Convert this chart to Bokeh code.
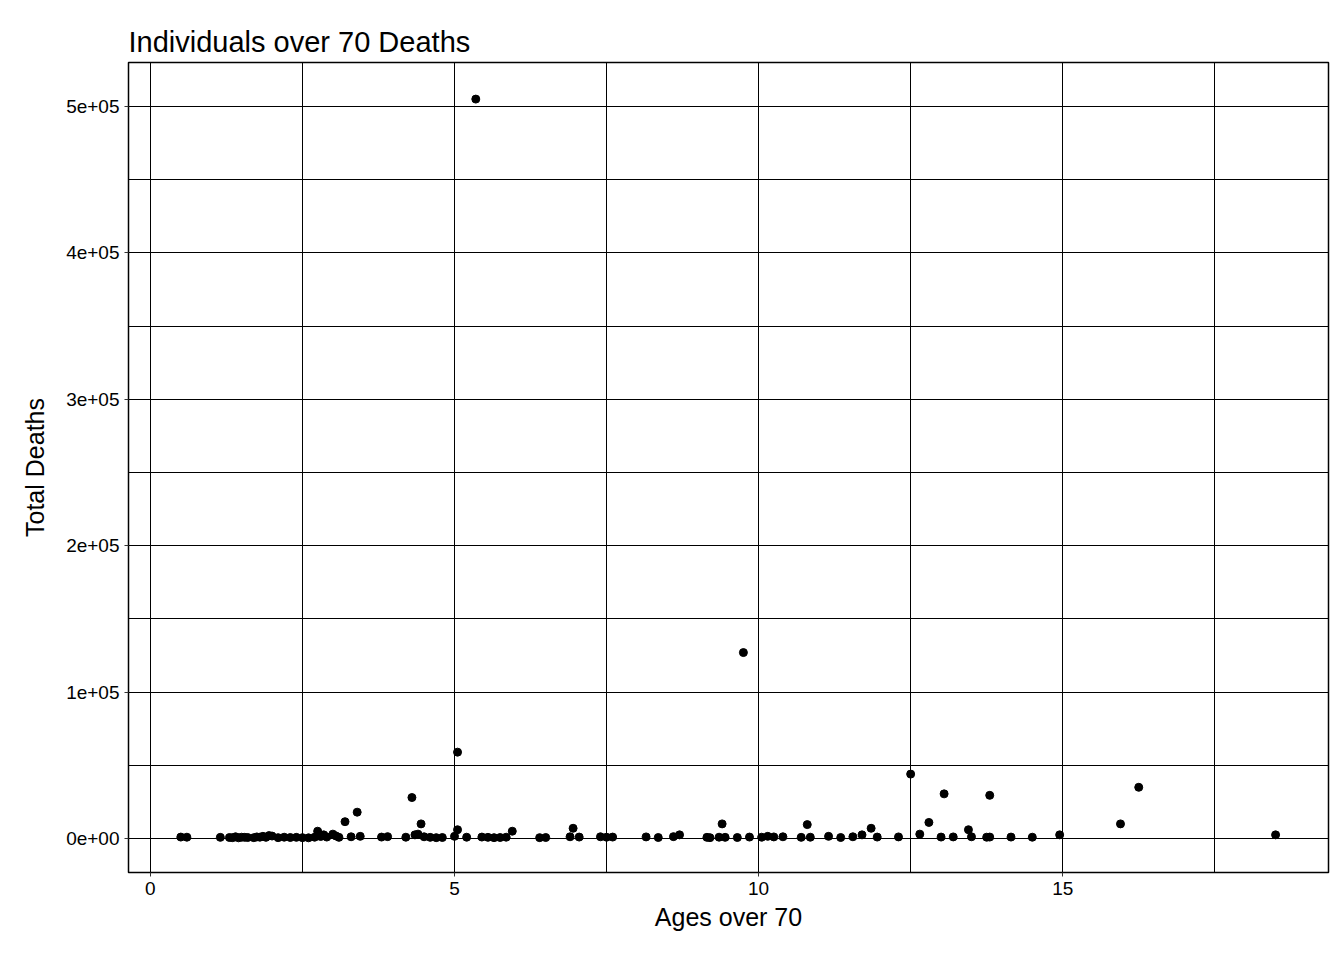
from bokeh.plotting import figure
from bokeh.embed import file_html
from bokeh.resources import INLINE
from bokeh.models import Range1d, FixedTicker

low_x = [0.5,0.6,1.15,1.3,1.35,1.4,1.45,1.5,1.55,1.6,1.7,1.75,1.8,1.85,1.9,1.95,2.0,2.1,2.2,2.3,2.4,2.5,2.6,2.7,2.8,2.85,2.9,3.0,3.05,3.1,3.3,3.45,3.8,3.9,4.2,4.35,4.4,4.5,4.6,4.7,4.8,5.0,5.2,5.45,5.55,5.65,5.75,5.85,6.4,6.5,6.9,7.05,7.4,7.5,7.6,8.15,8.35,8.6,9.15,9.2,9.35,9.45,9.65,9.85,10.05,10.15,10.25,10.4,10.7,10.85,11.15,11.35,11.55,11.7,11.95,12.3,13.0,13.2,13.5,13.75,13.8,14.15,14.5]
low_y = [1000,900,800,700,600,1200,500,900,800,700,600,1100,900,1500,800,2000,1700,600,900,700,800,600,500,900,1400,2500,1000,3000,1800,800,1200,1500,1000,1300,900,2500,3000,1200,800,600,700,1500,900,1000,800,600,700,900,600,700,1200,1000,1200,900,1000,1100,700,1300,800,600,900,800,700,1000,900,1500,1100,1200,800,900,1500,700,1200,2500,1000,1100,1000,1100,1200,900,1000,1000,900]
big_x = [5.35,9.75,5.05,12.5,16.25,13.05,13.8,4.3,3.4,3.2,4.45,12.8,9.4,10.8,15.95,11.85,6.95,13.45,2.75,5.05,5.95,18.5,14.95,12.65,8.7]
big_y = [505000,127000,59000,44000,35000,30500,29500,28000,18000,11500,10000,11000,10000,9500,10000,7000,7000,6000,5000,6000,5000,2500,2500,3000,2500]

xs = low_x + big_x
ys = low_y + big_y

p = figure(width=1336, height=952, output_backend="svg", toolbar_location=None,
           x_range=Range1d(-0.36, 19.37), y_range=Range1d(-23200, 530000),
           min_border_left=128, min_border_top=62, min_border_right=8, min_border_bottom=80,
           title="Individuals over 70 Deaths")
p.scatter(xs, ys, size=8, color="black")

p.title.text_font = "Liberation Sans"
p.title.text_font_size = "29px"
p.title.text_font_style = "normal"
p.title.text_color = "black"
p.title.offset = 0

p.xaxis.ticker = FixedTicker(ticks=[0,5,10,15], minor_ticks=[2.5,7.5,12.5,17.5])
p.yaxis.ticker = FixedTicker(ticks=[0,100000,200000,300000,400000,500000],
                             minor_ticks=[50000,150000,250000,350000,450000])
p.yaxis.major_label_overrides = {0:"0e+00",100000:"1e+05",200000:"2e+05",300000:"3e+05",400000:"4e+05",500000:"5e+05"}
p.xaxis.axis_label = "Ages over 70"
p.yaxis.axis_label = "Total Deaths"
for ax in (p.xaxis, p.yaxis):
    ax.axis_label_text_font = "Liberation Sans"
    ax.axis_label_text_font_size = "25px"
    ax.axis_label_text_font_style = "normal"
    ax.axis_label_text_color = "black"
    ax.major_label_text_font = "Liberation Sans"
    ax.major_label_text_font_size = "19px"
    ax.major_label_text_color = "black"
    ax.axis_line_color = None
    ax.minor_tick_line_color = None
    ax.major_tick_line_color = "#333333"
    ax.major_tick_out = 4
    ax.major_tick_in = 0
p.yaxis.axis_label_standoff = 14
for g in (p.xgrid, p.ygrid):
    g.grid_line_color = "black"
    g.grid_line_alpha = 1
    g.grid_line_width = 1
    g.minor_grid_line_color = "black"
    g.minor_grid_line_width = 1
p.outline_line_color = "black"
p.outline_line_width = 1.5
p.background_fill_color = "white"

open("out.html", "w").write(file_html(p, INLINE))
